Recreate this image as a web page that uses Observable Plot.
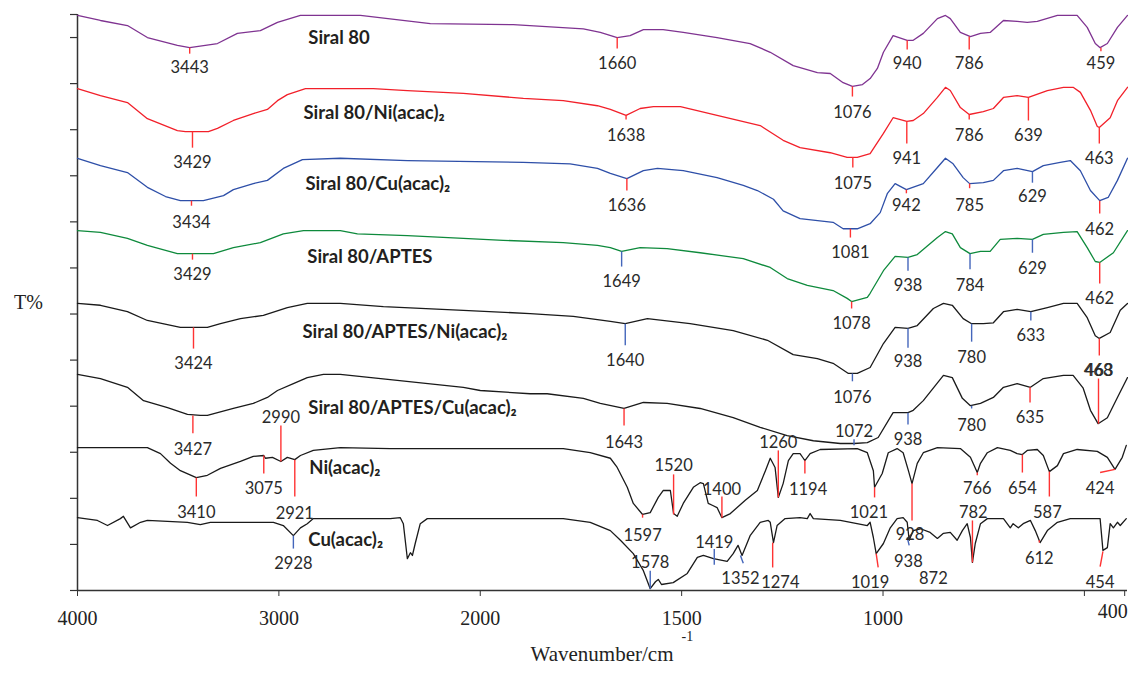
<!DOCTYPE html>
<html><head><meta charset="utf-8">
<script src="https://cdn.jsdelivr.net/npm/d3@7"></script>
<script src="https://cdn.jsdelivr.net/npm/@observablehq/plot@0.6"></script>
<style>body{margin:0;background:#fff}#chart svg{display:block}</style>
</head><body><div id="chart"></div>
<script>
// [wavenumber cm-1, T% (offset, a.u.)]
const siral80 = [[4000,124.8],[3886,123.7],[3752,122.6],[3653,120.0],[3504,118.3],[3443,117.8],[3305,118.7],[3206,120.9],[3092,121.5],[3007,123.3],[2893,124.8],[2595,124.8],[2248,123.0],[1918,122.8],[1744,121.9],[1702,121.1],[1660,120.0],[1628,120.4],[1595,121.7],[1546,121.7],[1496,121.1],[1412,120.0],[1330,118.7],[1280,116.8],[1223,113.9],[1163,112.4],[1131,112.2],[1099,110.2],[1076,109.4],[1051,109.8],[1032,111.1],[1014,113.3],[999,116.8],[975,120.4],[940,119.4],[925,119.4],[900,120.9],[865,124.1],[845,124.8],[833,124.1],[808,121.1],[783,120.2],[758,120.9],[734,121.1],[701,123.7],[667,123.5],[642,123.3],[617,123.5],[567,124.8],[518,124.8],[493,122.2],[473,118.7],[461,117.8],[443,118.7],[418,122.2],[393,124.8]];
const siral80Ni = [[4000,108.9],[3886,107.4],[3752,105.9],[3653,102.4],[3504,99.8],[3464,99.6],[3350,99.6],[3305,100.3],[3226,102.0],[3127,103.5],[3057,104.4],[3007,106.3],[2958,107.6],[2868,108.9],[2695,108.9],[2531,108.9],[2362,108.5],[2084,107.9],[1893,106.8],[1794,106.3],[1709,105.2],[1677,104.4],[1638,103.1],[1603,104.6],[1570,105.0],[1503,105.0],[1412,103.1],[1305,100.9],[1248,97.7],[1206,96.1],[1131,95.0],[1089,94.0],[1075,94.0],[1064,94.0],[1032,94.8],[999,99.2],[975,102.6],[941,101.8],[925,102.0],[900,103.5],[865,107.0],[845,109.2],[833,108.5],[808,104.8],[786,103.3],[751,103.9],[726,104.6],[701,107.0],[667,107.4],[639,107.0],[592,108.5],[552,109.2],[528,109.2],[510,108.1],[485,104.2],[468,100.7],[463,100.5],[436,102.6],[418,106.3],[393,109.2]];
const siral80Cu = [[4000,93.8],[3886,92.2],[3752,90.7],[3653,87.5],[3563,85.5],[3489,84.6],[3434,84.6],[3375,84.6],[3275,85.7],[3226,87.0],[3127,88.3],[3057,89.0],[2978,91.6],[2883,93.5],[2695,93.8],[2362,93.3],[1893,92.9],[1777,92.6],[1709,91.6],[1677,90.5],[1636,89.4],[1595,91.1],[1560,91.6],[1496,91.1],[1412,89.6],[1347,87.9],[1312,86.8],[1272,84.9],[1248,82.4],[1206,80.7],[1124,79.9],[1099,78.5],[1081,78.5],[1064,78.5],[1032,79.6],[1007,82.0],[989,86.2],[970,88.3],[942,87.0],[900,88.3],[865,91.8],[845,93.8],[826,92.6],[801,89.6],[785,88.3],[751,88.5],[726,89.0],[701,91.1],[667,91.6],[629,90.9],[602,92.2],[560,92.9],[535,93.3],[510,91.1],[485,86.8],[462,84.6],[441,85.3],[418,89.0],[393,93.8]];
const siral80Aptes = [[4000,78.1],[3886,77.7],[3752,76.4],[3653,74.9],[3504,73.1],[3429,73.1],[3325,73.1],[3226,74.4],[3092,75.5],[2978,77.4],[2878,78.1],[2695,78.1],[2610,77.4],[2362,77.0],[2084,76.4],[1943,76.0],[1794,75.5],[1709,74.9],[1677,74.4],[1649,73.6],[1603,74.4],[1536,74.2],[1454,73.3],[1347,72.0],[1280,70.1],[1238,67.7],[1188,66.2],[1124,65.1],[1089,63.4],[1078,62.7],[1039,63.6],[1032,64.5],[999,69.4],[970,72.5],[938,72.3],[915,72.9],[865,76.6],[845,77.9],[828,77.4],[808,74.4],[784,73.1],[758,73.6],[734,73.6],[709,76.2],[667,76.4],[629,76.2],[602,77.3],[552,77.7],[518,77.9],[493,74.4],[473,71.4],[462,71.2],[428,73.3],[393,78.1]];
const siral80AptesNi = [[4000,62.3],[3886,61.9],[3752,60.5],[3653,58.6],[3489,57.1],[3424,57.1],[3355,57.1],[3290,57.9],[3191,59.0],[3077,59.7],[2958,61.4],[2859,62.3],[2695,62.3],[2481,61.6],[2084,60.8],[1876,60.1],[1769,59.5],[1677,58.4],[1640,57.9],[1585,59.0],[1479,57.9],[1372,56.4],[1287,54.3],[1223,51.2],[1163,50.3],[1124,49.3],[1086,47.1],[1076,47.1],[1064,47.1],[1032,48.4],[999,53.6],[970,57.1],[938,56.9],[915,57.5],[875,61.2],[850,62.3],[828,61.9],[801,59.0],[780,57.9],[751,57.9],[726,58.1],[701,60.5],[667,61.0],[633,60.5],[592,61.4],[552,62.3],[518,62.3],[493,59.2],[473,55.3],[463,54.7],[436,56.0],[411,60.8],[393,62.3]];
const siral80AptesCu = [[4000,46.9],[3886,46.0],[3752,44.1],[3672,41.2],[3553,39.7],[3454,38.2],[3390,38.0],[3355,38.0],[3226,39.5],[3127,40.6],[3057,41.9],[3007,43.4],[2928,44.9],[2859,46.2],[2779,46.9],[2695,46.9],[2412,45.6],[2084,44.1],[2000,43.4],[1876,42.7],[1834,42.7],[1744,41.7],[1702,40.6],[1643,39.5],[1595,40.8],[1536,40.6],[1454,39.5],[1372,37.5],[1305,35.4],[1238,33.6],[1173,32.5],[1106,31.9],[1072,31.9],[1039,32.1],[1012,33.2],[975,38.6],[938,38.6],[925,39.1],[900,41.2],[850,46.7],[828,46.2],[803,41.7],[783,40.1],[758,40.6],[726,41.9],[701,44.1],[667,44.9],[634,44.1],[602,46.0],[552,46.7],[528,46.7],[503,43.9],[485,39.1],[466,36.2],[443,37.5],[418,41.9],[393,46.2]];
const niAcac = [[4000,31.0],[3653,31.0],[3588,29.7],[3538,27.6],[3489,26.0],[3410,24.5],[3355,25.0],[3290,26.5],[3191,28.0],[3127,29.1],[3075,29.3],[3067,28.7],[3032,28.9],[2990,28.0],[2958,28.9],[2921,28.4],[2893,29.3],[2829,30.4],[2695,31.0],[2447,30.8],[1794,30.8],[1727,29.9],[1677,28.7],[1660,26.7],[1635,22.4],[1620,18.9],[1597,16.5],[1578,16.9],[1558,20.2],[1546,21.7],[1528,21.7],[1520,16.7],[1511,16.1],[1496,18.9],[1471,22.4],[1454,23.4],[1446,23.2],[1434,18.9],[1424,18.5],[1412,18.0],[1400,15.8],[1379,16.7],[1342,19.6],[1312,21.7],[1292,26.0],[1280,28.7],[1268,26.7],[1260,20.2],[1248,23.2],[1235,28.2],[1223,29.7],[1206,29.7],[1198,28.7],[1194,28.2],[1181,29.7],[1156,30.6],[1064,30.8],[1039,29.9],[1024,26.0],[1021,22.4],[1002,25.4],[987,29.9],[965,30.8],[950,29.9],[937,26.0],[928,23.2],[915,27.6],[900,29.9],[865,31.0],[808,30.8],[783,28.9],[766,25.6],[758,27.6],[741,29.9],[716,31.0],[684,30.4],[667,29.7],[654,29.5],[642,30.4],[617,30.6],[602,29.3],[587,25.8],[567,27.1],[552,29.7],[518,30.6],[468,30.2],[443,28.9],[424,26.3],[406,28.9],[396,31.5]];
const cuAcac = [[4000,15.8],[3901,15.2],[3851,14.1],[3787,15.6],[3772,16.1],[3737,13.6],[3687,14.8],[3653,15.2],[3553,15.0],[3454,14.8],[3390,14.3],[3340,14.8],[3092,14.8],[3027,14.8],[2978,14.1],[2928,11.9],[2893,13.6],[2859,14.5],[2829,15.6],[2695,15.6],[2447,15.6],[2397,15.8],[2382,14.5],[2362,6.9],[2347,8.2],[2337,7.6],[2323,10.2],[2298,14.5],[2263,15.6],[1794,15.6],[1727,14.8],[1677,13.0],[1652,10.9],[1620,8.0],[1595,4.3],[1578,0.4],[1565,1.9],[1558,2.4],[1550,1.3],[1521,1.7],[1486,3.7],[1461,7.2],[1446,7.6],[1421,6.9],[1387,6.3],[1372,8.0],[1360,9.8],[1350,7.6],[1330,11.9],[1305,14.8],[1285,15.2],[1280,14.8],[1272,10.4],[1263,14.1],[1243,15.6],[1206,15.8],[1188,15.6],[1181,16.7],[1173,15.6],[1106,15.2],[1039,14.1],[1032,14.8],[1024,11.5],[1017,8.0],[999,10.2],[982,13.6],[965,15.6],[950,15.8],[940,14.8],[935,10.9],[925,13.0],[907,13.4],[883,12.6],[865,11.3],[850,12.4],[833,12.6],[816,10.9],[803,13.0],[791,14.5],[783,11.5],[778,6.1],[771,10.2],[758,14.5],[741,15.6],[701,15.6],[684,13.6],[677,14.5],[664,13.6],[652,14.5],[634,15.2],[622,13.0],[610,10.4],[592,13.0],[567,14.8],[535,15.6],[461,15.6],[454,8.7],[443,9.3],[436,14.5],[428,13.6],[418,14.8],[411,14.1],[396,15.6]];

const seriesNames = ["Siral 80","Siral 80/Ni(acac)\u2082","Siral 80/Cu(acac)\u2082","Siral 80/APTES","Siral 80/APTES/Ni(acac)\u2082","Siral 80/APTES/Cu(acac)\u2082","Ni(acac)\u2082","Cu(acac)\u2082"];
const seriesData = [siral80, siral80Ni, siral80Cu, siral80Aptes, siral80AptesNi, siral80AptesCu, niAcac, cuAcac];
const seriesColors = ["#7F3391","#F2202A","#2E4FA8","#0E8A3C","#1A1A1A","#1A1A1A","#1A1A1A","#1A1A1A"];
// name label anchor [wavenumber, T%]
const nameAnchors = [[2854,119.8],[2878,103.5],[2868,88.3],[2859,72.3],[2883,56.0],[2854,39.5],[2849,26.5],[2854,10.9]];

// peak annotations: [text, x1, y1, y2, textY, marker, x2, textX]
const peaks = [
 ["3443",3443,117.8,116.5,113.5,"r"],["1660",1660,120.0,117.6,114.4,"r"],["1076",1076,109.4,107.2,103.7,"r"],["940",940,119.4,117.4,114.4,"r"],["786",786,120.2,117.4,114.4,"r"],["459",459,117.8,117.0,114.4,"r"],
 ["3429",3429,99.6,96.1,92.9,"r"],["1638",1638,103.1,102.2,98.7,"r"],["1075",1075,94.0,91.8,88.3,"r"],["941",941,101.8,97.0,93.8,"r"],["786",786,103.3,102.2,98.7,"r"],["639",639,107.0,102.0,98.7,"r"],["463",463,100.5,97.0,93.8,"r"],
 ["3434",3434,84.6,83.5,79.9,"r"],["1636",1636,89.4,86.8,83.5,"r"],["1081",1081,78.5,76.6,73.3,"r"],["942",942,87.0,86.2,83.5,"r"],["785",785,88.3,87.3,83.5,"r"],["629",629,90.9,88.5,85.5,"b"],["462",462,84.6,81.8,78.3,"r"],
 ["3429",3429,73.1,71.8,68.6,"r"],["1649",1649,73.6,70.3,67.1,"b"],["1078",1078,62.7,61.2,57.9,"r"],["938",938,72.3,69.4,66.2,"b"],["784",784,73.1,69.7,66.2,"b"],["629",629,76.2,73.3,69.9,"b"],["462",462,71.2,66.6,63.4,"r"],
 ["3424",3424,57.1,52.5,49.3,"r"],["1640",1640,57.9,53.2,49.9,"b"],["1076",1076,47.1,45.4,41.9,"b"],["938",938,56.9,52.7,49.7,"b"],["780",780,57.9,54.0,50.6,"b"],["633",633,60.5,58.6,55.3,"b"],["463",463,54.7,51.0,47.7,"r"],
 ["3427",3427,38.0,34.1,30.6,"r"],["1643",1643,39.5,35.8,32.1,"r"],["1072",1072,32.8,31.5,34.5,"b"],["938",938,38.6,36.0,32.8,"b"],["780",780,40.1,39.5,35.8,"b"],["635",635,44.1,40.8,37.5,"r"],["468",465,46.0,36.2,47.7,"r",465,466],
 ["3410",3410,24.5,20.4,16.9,"r"],["3075",3075,29.3,25.4,22.1,"r"],["2990",2990,28.0,35.8,37.5,"r"],["2921",2921,28.4,20.4,16.7,"r"],["1597",1597,16.5,15.8,11.9,"r"],["1520",1520,25.2,16.5,27.1,"r"],["1400",1400,20.4,15.8,21.9,"r"],["1260",1260,30.4,20.2,32.1,"r"],["1194",1194,28.2,25.4,21.9,"r",1194,1186],["1021",1021,22.4,20.2,16.9,"r",1021,1035],["928",928,23.2,15.2,12.2,"r",928,933],["766",766,25.6,25.0,22.1,"r"],["654",654,29.5,25.6,22.1,"r"],["587",587,25.8,20.4,16.9,"r",587,592],["424",461,25.6,26.3,22.1,"r",424,461],
 ["2928",2928,11.9,9.1,5.9,"b"],["1578",1578,0.4,4.3,6.1,"b"],["1419",1419,9.0,5.6,10.4,"b"],["1352",1354,7.6,5.9,2.6,"b",1347,1354],["1274",1274,10.4,5.0,1.7,"r",1274,1255],["1019",1017,8.0,5.0,1.7,"r",1012,1032],["938",940,11.5,9.8,6.3,"b",935,937],["872",875,null,null,2.6,"n"],["782",778,15.2,6.1,16.9,"r",778,776],["612",612,10.9,10.4,6.9,"r"],["454",461,5.2,8.5,1.7,"r",454,461]
];

const xTicks = [4000,3000,2000,1500,1000];
const xMinorTicks = [500,400];
const yTicks = [0,10,20,30,40,50,60,70,80,90,100,110,120,125];

const peakRows = peaks.map(([text,x1,y1,y2,ty,kind,x2,tx]) => ({text,x1,y1,y2,ty,kind,x2: x2 ?? x1, tx: tx ?? x1}));
const markColor = {r:"#FF3333", b:"#4466BB"};

// broken wavenumber axis: below 2000 cm-1 is drawn at twice the scale
const breakAxis = w => w >= 2000 ? 4000 - w : 2000 + 2 * (2000 - w);
const unbreak = u => u <= 2000 ? 4000 - u : 2000 - (u - 2000) / 2;

const lines = seriesData.map((d,i) => Plot.line(d, {x: p => p[0], y: p => p[1], stroke: seriesColors[i], strokeWidth: 1.3}));

const chart = Plot.plot({
  width: 1128, height: 677,
  marginLeft: 77, marginRight: 1, marginTop: 14, marginBottom: 87,
  x: {transform: breakAxis, domain: [breakAxis(4000), breakAxis(393)], range: [77, 1127]},
  y: {domain: [0, 125]},
  style: {background: "#fff", color: "#222"},
  marks: [
    Plot.axisY({ticks: yTicks, tickSize: 7, tickFormat: () => "", label: null, stroke: "#333", strokeWidth: 1.2}),
    Plot.ruleX([4000], {stroke: "#333", strokeWidth: 1.5}),
    Plot.ruleY([0], {stroke: "#333", strokeWidth: 1.5}),
    Plot.axisX({ticks: xTicks.map(breakAxis), tickSize: 6, tickPadding: 14, tickFormat: u => String(Math.round(unbreak(u))), fontSize: 20, fontFamily: "Liberation Serif", label: null, stroke: "#333", fill: "#222"}),
    Plot.axisX({ticks: xMinorTicks.map(breakAxis), tickSize: 6, tickFormat: () => "", label: null, stroke: "#333"}),
    Plot.text(["400"], {x: () => 400, frameAnchor: "bottom", dy: 27, dx: 3, textAnchor: "end", text: d => d, fontSize: 20, fontFamily: "Liberation Serif", fill: "#222"}),
    Plot.text(["Wavenumber/cm"], {frameAnchor: "bottom", dx: 71, dy: 70, textAnchor: "end", text: d => d, fontSize: 21, fontFamily: "Liberation Serif", fill: "#222"}),
    Plot.text(["-1"], {frameAnchor: "bottom", dx: 79, dy: 50, textAnchor: "start", text: d => d, fontSize: 14, fontFamily: "Liberation Serif", fill: "#222"}),
    Plot.text(["T%"], {frameAnchor: "left", dx: -49, textAnchor: "middle", text: d => d, fontSize: 20, fontFamily: "Liberation Serif", fill: "#222"}),
    ...lines,
    Plot.link(peakRows.filter(d => d.kind !== "n"), {x1: "x1", y1: "y1", x2: "x2", y2: "y2", stroke: d => markColor[d.kind], strokeWidth: 1.4}),
    Plot.text(peakRows, {x: "tx", y: "ty", text: "text", fontSize: 16.5, fontFamily: "Lato", fill: "#2A2A2A"}),
    Plot.text(seriesNames, {x: (d,i) => nameAnchors[i][0], y: (d,i) => nameAnchors[i][1], text: d => d, textAnchor: "start", fontSize: 18.5, fontWeight: "bold", fontFamily: "Lato", fill: "#231F20"})
  ]
});
document.getElementById("chart").appendChild(chart);
</script>
</body></html>
